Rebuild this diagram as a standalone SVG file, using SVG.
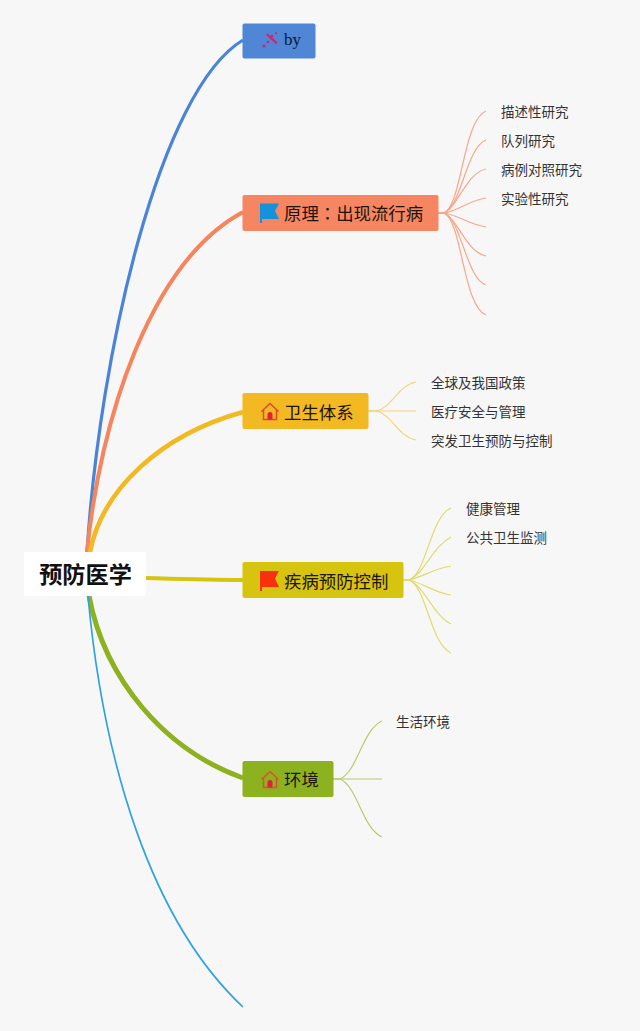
<svg xmlns="http://www.w3.org/2000/svg" width="640" height="1031" viewBox="0 0 640 1031">
<style>
text{font-family:"Liberation Sans","Noto Sans CJK SC",sans-serif}
.t{font-size:17.4px;fill:#1c1408}
.l{font-size:13.5px;fill:#333}
.m{fill:none;stroke-linecap:butt}
.b{fill:none;stroke-width:1.2}
</style>
<rect width="640" height="1031" fill="#f8f7f7"/>
<g id="connectors">
<path class="m" stroke="#4a84d8" stroke-width="3.2" d="M87 552C100 350 160 90 243 40"/>
<path class="m" stroke="#f6845c" stroke-width="4" d="M87 552C100 420 150 262 243 212"/>
<path class="m" stroke="#f3b922" stroke-width="4.6" d="M90 552C102 490 160 435 243 412"/>
<path class="m" stroke="#d6c40f" stroke-width="4" d="M146 578C180 579 210 580 243 580"/>
<path class="m" stroke="#8cb21f" stroke-width="5" d="M89 596C105 680 165 750 243 778"/>
<path class="m" stroke="#2fa3e0" stroke-width="1.7" d="M88 596C103 760 150 920 243 1007"/>
<g stroke="#f8a68c" class="b">
<path d="M438 213H444C462 205 463 120 486 111"/>
<path d="M438 213H444C462 205 466 148 486 140"/>
<path d="M438 213H444C458 207 466 173 486 169"/>
<path d="M438 213H444C458 211 470 200 486 198"/>
<path d="M438 213H444C458 215 470 225 486 227"/>
<path d="M438 213H444C458 219 466 252 486 256"/>
<path d="M438 213H444C462 221 466 278 486 285"/>
<path d="M438 213H444C462 221 463 306 486 315"/>
</g>
<g stroke="#f5d37c" class="b">
<path d="M368 411H376C392 408 398 385 416 382"/>
<path d="M368 411H416"/>
<path d="M368 411H376C392 414 398 437 416 440"/>
</g>
<g stroke="#dfdc6c" class="b">
<path d="M403 580H409C427 573 430 517 451 508"/>
<path d="M403 580H409C425 573 433 546 451 537"/>
<path d="M403 580H409C423 577 435 568 451 566"/>
<path d="M403 580H409C423 583 435 593 451 595"/>
<path d="M403 580H409C425 587 433 615 451 624"/>
<path d="M403 580H409C427 587 430 644 451 653"/>
</g>
<g stroke="#b6cc6a" class="b">
<path d="M333 779H340C358 771 362 730 382 721"/>
<path d="M333 779H382"/>
<path d="M333 779H340C358 787 362 828 382 837"/>
</g>
</g>
<g id="root"><rect x="24" y="552" width="122" height="44" rx="2" fill="#fff"/><text x="85.500" y="583" text-anchor="middle" font-size="23.2" font-weight="700" fill="#111">预防医学</text></g>
<g id="by"><rect x="242.500" y="23.500" width="73" height="35" rx="2" fill="#4f86d6"/>
<g fill="#d1206f"><path d="M266 35l1.500-1.500 10 9-1.500 1.500z"/><circle cx="264" cy="46" r="1.500"/><circle cx="268" cy="42" r="1.200"/><circle cx="272" cy="36" r="1.300"/><circle cx="276" cy="33" r="1"/></g>
<text x="284" y="45" font-size="17" fill="#0c1a36" style="font-family:'Liberation Serif',serif">by</text></g>
<g id="principle"><rect x="242.500" y="195" width="196" height="36" rx="2" fill="#f68562"/>
<path d="M260 203.500H279L275 211L279 219H262V223H260z" fill="#1592dc"/>
<text x="284" y="220" class="t" style="font-family:'Liberation Sans','Noto Sans CJK TC',sans-serif">原理：出现流行病</text></g>
<g id="health-system"><rect x="242.500" y="393" width="126" height="36" rx="2" fill="#f3b922"/>
<path d="M261.500 411.500L270 403.500L278.500 411.500M263.500 410V419.500H276.500V410" fill="none" stroke="#e0492c" stroke-width="1.500"/><path d="M267.500 419.500V414.500a2.500 2.500 0 0 1 5 0V419.500z" fill="#e0203c"/>
<text x="284" y="419" class="t">卫生体系</text></g>
<g id="disease"><rect x="242.500" y="562" width="161" height="36" rx="2" fill="#d6c40f"/>
<path d="M260 571H279L275 578.500L279 587H262V591H260z" fill="#f8300e"/>
<text x="284" y="588" class="t">疾病预防控制</text></g>
<g id="environment"><rect x="242.500" y="761" width="91" height="36" rx="2" fill="#8cb21f"/>
<path d="M261.500 779.500L270 771.500L278.500 779.500M263.500 778V787.500H276.500V778" fill="none" stroke="#d9532c" stroke-width="1.500"/><path d="M267.500 787.500V782.500a2.500 2.500 0 0 1 5 0V787.500z" fill="#e0203c"/>
<text x="284" y="786" class="t">环境</text></g>
<g id="labels">
<g id="n1"><text x="501" y="117" class="l">描述性研究</text></g>
<g id="n2"><text x="501" y="146" class="l">队列研究</text></g>
<g id="n3"><text x="501" y="175" class="l">病例对照研究</text></g>
<g id="n4"><text x="501" y="204" class="l">实验性研究</text></g>
<g id="n5"><text x="431" y="388" class="l">全球及我国政策</text></g>
<g id="n6"><text x="431" y="417" class="l">医疗安全与管理</text></g>
<g id="n7"><text x="431" y="446" class="l">突发卫生预防与控制</text></g>
<g id="n8"><text x="466" y="514" class="l">健康管理</text></g>
<g id="n9"><text x="466" y="543" class="l">公共卫生监测</text></g>
<g id="n10"><text x="396" y="727" class="l">生活环境</text></g>
</g>
</svg>
